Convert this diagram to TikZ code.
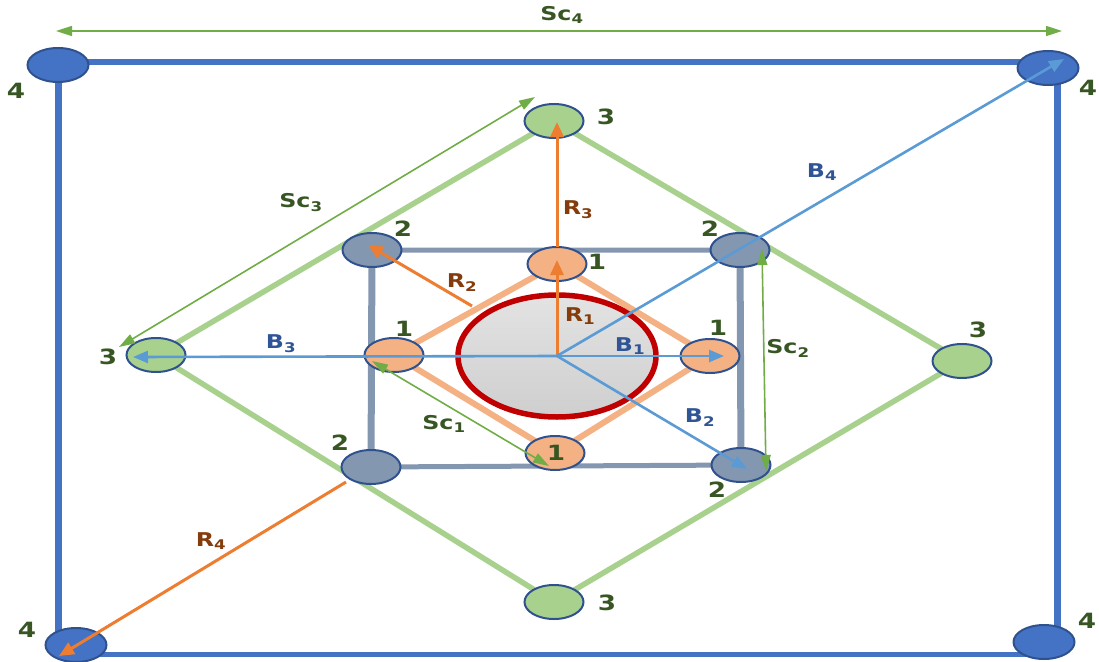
\documentclass[tikz,border=0pt]{standalone}
\usepackage{fontspec}
\setmainfont{DejaVu Sans}
\newfontfamily\widefont[FakeStretch=1.25]{DejaVu Sans}
\usetikzlibrary{shapes.geometric,arrows.meta}
\definecolor{outerblue}{HTML}{4472C4}
\definecolor{ringgreen}{HTML}{A9D18E}
\definecolor{sqgray}{HTML}{8497B0}
\definecolor{ringorange}{HTML}{F4B183}
\definecolor{arrorange}{HTML}{ED7D31}
\definecolor{arrblue}{HTML}{5B9BD5}
\definecolor{arrgreen}{HTML}{70AD47}
\definecolor{txtgreen}{HTML}{375623}
\definecolor{txtbrown}{HTML}{843C0C}
\definecolor{txtblue}{HTML}{2F5597}
\definecolor{darkred}{HTML}{C00000}
\definecolor{edgeblue}{HTML}{2F528F}
\tikzset{
  bead/.style={ellipse, draw=edgeblue, line width=2pt, minimum width=59pt, minimum height=34pt, inner sep=0pt},
  num/.style={font=\widefont\bfseries\fontsize{21}{21}\selectfont, text=txtgreen, inner sep=0pt},
  lab/.style={font=\widefont\bfseries\fontsize{19}{19}\selectfont, inner sep=0pt},
  rarrow/.style={draw=arrorange, line width=3pt, -{Triangle[length=15pt,width=13pt]}},
  barrow/.style={draw=arrblue, line width=2.6pt, -{Triangle[length=15pt,width=12pt]}},
  scarrow/.style={draw=arrgreen, line width=1.6pt, {Triangle[length=16pt,width=10pt]}-{Triangle[length=16pt,width=10pt]}},
}
\begin{document}
\begin{tikzpicture}[x=1pt,y=-1pt]
\useasboundingbox (0,0) rectangle (1099,661);
% outer square corners
\coordinate (oTL) at (58,62);
\coordinate (oTR) at (1057,62);
\coordinate (oBR) at (1057,654);
\coordinate (oBL) at (58,654);
\draw[outerblue, line width=5pt] (oTL) -- (oTR) (oBL) -- (oBR);
\draw[outerblue, line width=7pt] (oTL) -- (oBL) (oTR) -- (oBR);
% node positions
\coordinate (p3t) at (554,121);
\coordinate (p3l) at (156,355);
\coordinate (p3b) at (554,602);
\coordinate (p3r) at (962,361);
\coordinate (p2tl) at (372,250);
\coordinate (p2tr) at (740,250);
\coordinate (p2bl) at (371,467);
\coordinate (p2br) at (741,465);
\coordinate (p1t) at (557,264);
\coordinate (p1l) at (394,355);
\coordinate (p1b) at (555,453);
\coordinate (p1r) at (710,356);
% rings
\draw[ringgreen, line width=5.5pt, line join=round] (p3t) -- (p3r) -- (p3b) -- (p3l) -- cycle;
\draw[sqgray, line width=5pt] (p2tl) -- (p2tr) (p2bl) -- (p2br);
\draw[sqgray, line width=7pt] (p2tl) -- (p2bl) (p2tr) -- (p2br);
\draw[ringorange, line width=6pt, line join=round] (p1t) -- (p1r) -- (p1b) -- (p1l) -- cycle;
% beads
\node[bead, fill=outerblue, minimum width=61pt] (n4tl) at (58,65) {};
\node[bead, fill=outerblue, minimum width=61pt] (n4tr) at (1048,68) {};
\node[bead, fill=outerblue, minimum width=61pt] (n4bl) at (76,645) {};
\node[bead, fill=outerblue, minimum width=61pt] (n4br) at (1044,642) {};
\node[bead, fill=ringgreen] (n3t) at (p3t) {};
\node[bead, fill=ringgreen] (n3l) at (p3l) {};
\node[bead, fill=ringgreen] (n3b) at (p3b) {};
\node[bead, fill=ringgreen] (n3r) at (p3r) {};
\node[bead, fill=sqgray] (n2tl) at (p2tl) {};
\node[bead, fill=sqgray] (n2tr) at (p2tr) {};
\node[bead, fill=sqgray] (n2bl) at (p2bl) {};
\node[bead, fill=sqgray] (n2br) at (p2br) {};
\node[bead, fill=ringorange] (n1t) at (p1t) {};
\node[bead, fill=ringorange] (n1l) at (p1l) {};
\node[bead, fill=ringorange] (n1b) at (p1b) {};
\node[bead, fill=ringorange] (n1r) at (p1r) {};
% core
\node[ellipse, draw=darkred, line width=5.5pt, top color=gray!22, bottom color=gray!38, minimum width=198pt, minimum height=122pt, inner sep=0pt] (core) at (557,356) {};
% arrow end points
\coordinate (r1h) at (557,260);
\coordinate (r3t) at (557,247);
\coordinate (r3h) at (557,122);
\coordinate (r2t) at (472,306);
\coordinate (r2h) at (368,245);
\coordinate (r4t) at (346,482);
\coordinate (r4h) at (59,656);
\coordinate (b1h) at (724,356);
\coordinate (b2h) at (747,469);
\coordinate (b3h) at (133,357);
\coordinate (b4h) at (1064,59);
\coordinate (s1a) at (372,361);
\coordinate (s1b) at (549,466);
\coordinate (s2a) at (762,249);
\coordinate (s2b) at (766,471);
\coordinate (s3a) at (535,97);
\coordinate (s3b) at (119,347);
\coordinate (s4a) at (56,31);
\coordinate (s4b) at (1062,31);
% arrows
\draw[rarrow] (core.center) -- (r1h);
\draw[rarrow] (r3t) -- (r3h);
\draw[rarrow] (r2t) -- (r2h);
\draw[rarrow] (r4t) -- (r4h);
\draw[barrow] (core.center) -- (b1h);
\draw[barrow] (core.center) -- (b2h);
\draw[barrow] (core.center) -- (b3h);
\draw[barrow] (core.center) -- (b4h);
\draw[scarrow] (s1a) -- (s1b);
\draw[scarrow] (s2a) -- (s2b);
\draw[scarrow] (s3a) -- (s3b);
\draw[scarrow] (s4a) -- (s4b);
% number labels
\node[num] (l4a) at (16,91) {4};
\node[num] (l4b) at (1088,88) {4};
\node[num] (l4c) at (27,630) {4};
\node[num] (l4d) at (1087,621) {4};
\node[num] (l3a) at (606,117) {3};
\node[num] (l3b) at (108,357) {3};
\node[num] (l3c) at (607,603) {3};
\node[num] (l3d) at (978,330) {3};
\node[num] (l2a) at (403,229) {2};
\node[num] (l2b) at (710,229) {2};
\node[num] (l2c) at (340,443) {2};
\node[num] (l2d) at (717,490) {2};
\node[num] (l1a) at (597,262) {1};
\node[num] (l1b) at (404,329) {1};
\node[num] (l1c) at (718,328) {1};
\node[num] (l1d) at (556,453) {1};
% measure labels
\node[lab, text=txtgreen] (tsc4) at (562,15) {Sc\textsubscript{4}};
\node[lab, text=txtgreen] (tsc3) at (301,203) {Sc\textsubscript{3}};
\node[lab, text=txtgreen] (tsc2) at (788,348) {Sc\textsubscript{2}};
\node[lab, text=txtgreen] (tsc1) at (444,424) {Sc\textsubscript{1}};
\node[lab, text=txtbrown] (tr1) at (580,316) {R\textsubscript{1}};
\node[lab, text=txtbrown] (tr2) at (462,283) {R\textsubscript{2}};
\node[lab, text=txtbrown] (tr3) at (578,210) {R\textsubscript{3}};
\node[lab, text=txtbrown] (tr4) at (211,541) {R\textsubscript{4}};
\node[lab, text=txtblue] (tb1) at (630,346) {B\textsubscript{1}};
\node[lab, text=txtblue] (tb2) at (700,418) {B\textsubscript{2}};
\node[lab, text=txtblue] (tb3) at (281,344) {B\textsubscript{3}};
\node[lab, text=txtblue] (tb4) at (822,172) {B\textsubscript{4}};
\end{tikzpicture}
\end{document}
